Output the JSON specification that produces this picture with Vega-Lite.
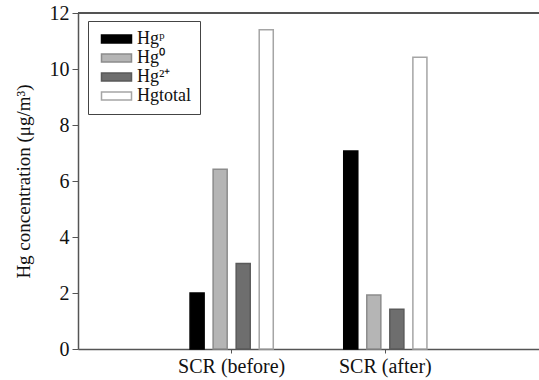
{
  "$schema": "https://vega.github.io/schema/vega-lite/v6.json",
  "autosize": "none",
  "padding": {"left": 78, "top": 13, "right": 0, "bottom": 31},
  "width": 461,
  "height": 336,
  "background": "white",
  "config": {
    "font": "Liberation Serif",
    "view": {"stroke": null}
  },
  "data": {
    "values": [
      {"stage": "SCR (before)", "species": "Hgᵖ", "value": 2.0},
      {"stage": "SCR (before)", "species": "Hg⁰", "value": 6.42},
      {"stage": "SCR (before)", "species": "Hg²⁺", "value": 3.05},
      {"stage": "SCR (before)", "species": "Hgtotal", "value": 11.4},
      {"stage": "SCR (after)", "species": "Hgᵖ", "value": 7.07},
      {"stage": "SCR (after)", "species": "Hg⁰", "value": 1.93},
      {"stage": "SCR (after)", "species": "Hg²⁺", "value": 1.42},
      {"stage": "SCR (after)", "species": "Hgtotal", "value": 10.42}
    ]
  },
  "layer": [
    {
      "mark": {"type": "rule", "color": "#555", "strokeWidth": 1.5},
      "encoding": {"y": {"datum": 12, "type": "quantitative"}}
    },
    {
      "mark": {"type": "bar", "strokeWidth": 1.5},
      "encoding": {
        "x": {
          "field": "stage",
          "type": "nominal",
          "sort": ["SCR (before)", "SCR (after)"],
          "scale": {"paddingInner": 0.4, "paddingOuter": 0.7},
          "axis": {
            "title": null,
            "labelAngle": 0,
            "labelFontSize": 20,
            "labelColor": "#111",
            "labelPadding": 3,
            "domainColor": "#555",
            "domainWidth": 1.5,
            "tickColor": "#555",
            "tickSize": 4
          }
        },
        "xOffset": {
          "field": "species",
          "type": "nominal",
          "sort": ["Hgᵖ", "Hg⁰", "Hg²⁺", "Hgtotal"],
          "scale": {"paddingInner": 0.39, "paddingOuter": 0.195}
        },
        "y": {
          "field": "value",
          "type": "quantitative",
          "scale": {"domain": [0, 12], "nice": false},
          "axis": {
            "title": "Hg concentration (μg/m³)",
            "titleFontSize": 19,
            "titleFontWeight": "normal",
            "titleColor": "#111",
            "titlePadding": 16,
            "values": [0, 2, 4, 6, 8, 10, 12],
            "grid": false,
            "labelFontSize": 20,
            "labelColor": "#111",
            "labelPadding": 3,
            "domainColor": "#555",
            "domainWidth": 1.5,
            "tickColor": "#555",
            "tickSize": 6
          }
        },
        "fill": {
          "field": "species",
          "type": "nominal",
          "scale": {
            "domain": ["Hgᵖ", "Hg⁰", "Hg²⁺", "Hgtotal"],
            "range": ["#000000", "#b5b5b5", "#6e6e6e", "#ffffff"]
          },
          "legend": {
            "title": null,
            "orient": "none",
            "legendX": 10,
            "legendY": 8,
            "strokeColor": "#444",
            "fillColor": "white",
            "padding": 9,
            "labelFontSize": 18,
            "labelColor": "#111",
            "rowPadding": 1,
            "labelOffset": 22,
            "symbolType": "M-0.6,-0.53H3.4V0.53H-0.6Z",
            "symbolSize": 225,
            "symbolStrokeWidth": 1.5,
            "symbolOpacity": 1
          }
        },
        "stroke": {
          "field": "species",
          "type": "nominal",
          "scale": {
            "domain": ["Hgᵖ", "Hg⁰", "Hg²⁺", "Hgtotal"],
            "range": ["#000000", "#8c8c8c", "#5a5a5a", "#a5a5a5"]
          },
          "legend": null
        }
      }
    }
  ]
}
